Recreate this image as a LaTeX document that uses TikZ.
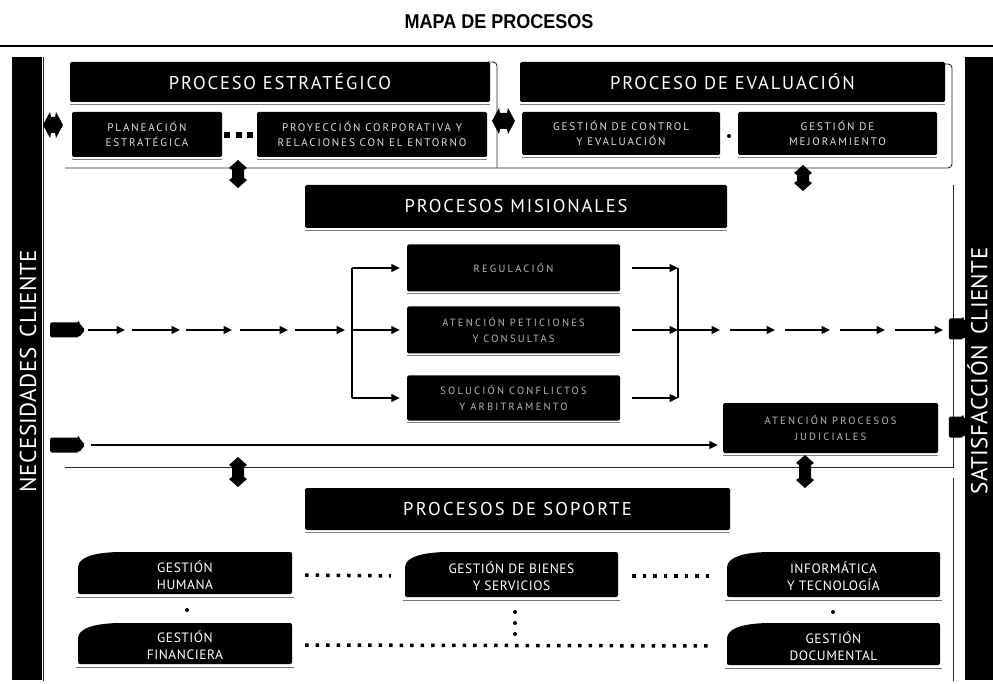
\documentclass[tikz,border=0pt]{standalone}
\usepackage{fontspec}
\setmainfont{PT Sans}
\newfontfamily\titlefont[FakeStretch=0.9]{Liberation Sans}
\newfontfamily\hdfont[LetterSpace=10]{PT Sans}
\newfontfamily\sphdfont[LetterSpace=12]{PT Sans}
\newfontfamily\lsfont[LetterSpace=17]{PT Sans}
\newfontfamily\msfont[LetterSpace=21]{PT Sans}
\newfontfamily\spfont[LetterSpace=4]{PT Sans}
\newfontfamily\barfont[LetterSpace=2]{PT Sans}
\usetikzlibrary{arrows.meta,shapes.arrows}
\newcommand\tabbox[4]{%
  \fill[black,rounded corners=2pt] (#1,#4) -- (#1,#2+13) .. controls (#1+5,#2+5) and (#1+15,#2+1) .. (#1+40,#2) -- (#3,#2) -- (#3,#4) -- cycle;
  \draw[black!55,line width=1pt] (#1-2,#4+3) -- (#3+2,#4+3);
}
% vertical double arrow: name, x, top, bottom
\newcommand\dblV[4]{%
  \fill[black] (#2,#3) -- (#2+9,#3+8) -- (#2+6,#3+10) -- (#2+6,#4-10) -- (#2+9,#4-8) -- (#2,#4)
    -- (#2-9,#4-8) -- (#2-6,#4-10) -- (#2-6,#3+10) -- (#2-9,#3+8) -- cycle;
  \coordinate (#1) at (#2,{(#3+#4)/2});
}
% horizontal double arrow: name, left, right, y, head half-height
\newcommand\dblH[5]{%
  \fill[black] (#2,#4) -- (#2+7,#4-#5) -- (#2+8,#4-#5+5) -- (#3-8,#4-#5+5) -- (#3-7,#4-#5) -- (#3,#4)
    -- (#3-7,#4+#5) -- (#3-8,#4+#5-5) -- (#2+8,#4+#5-5) -- (#2+7,#4+#5) -- cycle;
  \coordinate (#1) at ({(#2+#3)/2},#4);
}
\begin{document}
\begin{tikzpicture}[x=1pt,y=-1pt,
  hdr/.style={fill=black,rounded corners=1.5pt,text=white,inner sep=0pt,font=\hdfont\fontsize{18.5}{20}\selectfont},
  sub/.style={fill=black,rounded corners=1.5pt,text=black!12,inner sep=0pt,align=center,font=\lsfont\fontsize{11}{15}\selectfont},
  mis/.style={fill=black,rounded corners=1.5pt,text=black!28,inner sep=0pt,align=center,font=\msfont\fontsize{10.5}{16}\selectfont},
  suptext/.style={text=white,inner sep=0pt,align=center,font=\spfont\fontsize{13.5}{17}\selectfont},
  barbox/.style={fill=black,inner sep=0pt},
  bartext/.style={text=white,inner sep=0pt,font=\barfont\fontsize{23}{26}\selectfont},
  frame/.style={line width=0.9pt,black!85},
  arr/.style={line width=1.2pt,-{Triangle[length=8.5pt,width=8pt]}},
  plain/.style={line width=1.2pt},
  fat/.style={single arrow,fill=black,inner sep=0pt,single arrow head extend=0pt,single arrow tip angle=100,rounded corners=1.5pt},
  dotline/.style={line width=3.5pt,dash pattern=on 3.5pt off 7pt,black},
  dotnode/.style={fill=black,circle,minimum size=4pt,inner sep=0pt},
  shadowl/.style={black!50,line width=0.9pt}
]
\useasboundingbox (0,0) rectangle (993,684);
% title
\node[font=\titlefont\bfseries\fontsize{20}{22}\selectfont] (title) at (499,22) {MAPA DE PROCESOS};
\draw[line width=2pt] (0,46) -- (993,46);
% side bars
\node[barbox,minimum width=30,minimum height=623] (nec) at (27,368.5) {};
\node[bartext,rotate=90,anchor=center] (nect) at (28,371) {NECESIDADES\hspace{0.45em}CLIENTE};
\node[barbox,minimum width=28,minimum height=623] (sat) at (979,368.5) {};
\node[bartext,rotate=90,anchor=center] (satt) at (977.5,371) {SATISFACCIÓN\hspace{0.45em}CLIENTE};
\draw[frame] (43,57) -- (43,681);
% frames
\draw[frame,rounded corners=4pt] (945,64) -- (952,64) -- (952,168) -- (65,168);
\draw[frame,rounded corners=4pt] (488,62) -- (497,62) -- (497,168);
\draw[frame] (953,185) -- (953,467) -- (65,467);
\draw[frame] (953,478) -- (953,681);
% strategic
\node[hdr,minimum width=420,minimum height=40] (pe) at (280,82) {PROCESO ESTRATÉGICO};
\node[sub,minimum width=150,minimum height=45] (plan) at (147,134.5) {PLANEACIÓN\\ESTRATÉGICA};
\node[sub,minimum width=230,minimum height=45] (proy) at (372,134.5) {PROYECCIÓN CORPORATIVA Y\\RELACIONES CON EL ENTORNO};
% evaluation
\node[hdr,minimum width=425,minimum height=40] (pev) at (732.5,82) {PROCESO DE EVALUACIÓN};
\node[sub,minimum width=198,minimum height=43] (ctrl) at (621,133.5) {GESTIÓN DE CONTROL\\Y EVALUACIÓN};
\node[sub,minimum width=199,minimum height=43] (mej) at (837.5,133.5) {GESTIÓN DE\\MEJORAMIENTO};
\foreach \n in {pe,plan,proy,pev,ctrl,mej}
  \draw[shadowl] ([yshift=-2pt]\n.south west) -- ([yshift=-2pt]\n.south east);
% dots in top
\foreach \xx [count=\i] in {227,238.5,250}
  \node[fill=black,minimum size=6pt,inner sep=0pt] (sd\i) at (\xx,135) {};
\node[dotnode] (ed) at (729,136) {};
% double arrows top
\dblH{da1}{43}{63}{125}{13}
\dblH{da2}{492}{515}{121}{13}
\dblV{da3}{238}{160}{188}
\dblV{da4}{803}{165}{191}
% misionales
\node[hdr,minimum width=422,minimum height=43] (pm) at (516,206.5) {PROCESOS MISIONALES};
\node[mis,minimum width=213,minimum height=47] (reg) at (513.5,268) {REGULACIÓN};
\node[mis,minimum width=213,minimum height=47] (aten) at (513.5,330) {ATENCIÓN PETICIONES\\Y CONSULTAS};
\node[mis,minimum width=213,minimum height=45] (sol) at (513.5,398) {SOLUCIÓN CONFLICTOS\\Y ARBITRAMENTO};
\node[mis,minimum width=215,minimum height=50] (jud) at (830.5,428) {ATENCIÓN PROCESOS\\JUDICIALES};
\foreach \n in {pm,reg,aten,sol,jud}
  \draw[shadowl] ([yshift=-2pt]\n.south west) -- ([yshift=-2pt]\n.south east);
% fat arrows
\node[fat,minimum height=35,minimum width=15] (L1) at (64.5,330) {};
\node[fat,minimum height=35,minimum width=15] (L2) at (64.5,445) {};
\node[fat,minimum height=23,minimum width=21] (R1) at (956,329) {};
\node[fat,minimum height=23,minimum width=21] (R2) at (956,427) {};
% left chain
\foreach \a/\b [count=\i] in {88/125,132/180,186/232,240/288,295/345} {
  \coordinate (la\i) at (\a,330); \coordinate (lb\i) at (\b,330);
  \draw[arr] (la\i) -- (lb\i);
}
\coordinate (bt) at (352,268); \coordinate (bb) at (352,398);
\draw[plain] (bt) -- (bb);
\draw[arr,shorten >=7pt] (bt) -- (bt -| reg.west);
\draw[arr,shorten >=7pt] (bt |- aten.west) -- (aten.west);
\draw[arr,shorten >=7pt] (bb) -- (bb -| sol.west);
% right merge
\coordinate (mt) at (678,268); \coordinate (mb) at (678,398);
\draw[plain] (mt) -- (mb);
\draw[arr,shorten <=12pt] (reg.east) -- (mt);
\draw[arr,shorten <=12pt] (aten.east) -- (mt |- aten.east);
\draw[arr,shorten <=12pt] (sol.east) -- (mb);
\foreach \a/\b [count=\i] in {678/720,730/775,785/830,840/885,895/943} {
  \coordinate (ra\i) at (\a,330); \coordinate (rb\i) at (\b,330);
  \draw[arr] (ra\i) -- (rb\i);
}
% second row
\draw[arr,shorten <=6pt,shorten >=5pt] (L2.east) -- (L2.east -| jud.west);
% bottom double arrows
\dblV{da5}{238}{457}{487}
\dblV{da6}{805}{455}{488}
% support
\node[hdr,font=\sphdfont\fontsize{18.5}{20}\selectfont,minimum width=425,minimum height=42] (ps) at (517.5,509) {PROCESOS DE SOPORTE};
\draw[shadowl] ([yshift=-2pt]ps.south west) -- ([yshift=-2pt]ps.south east);
\tabbox{78}{552}{292}{594}
\node[suptext,minimum width=214,minimum height=42] (hum) at (185,575) {GESTIÓN\\HUMANA};
\tabbox{78}{623}{292}{664}
\node[suptext,minimum width=214,minimum height=41] (fin) at (185,645) {GESTIÓN\\FINANCIERA};
\tabbox{405}{552}{618}{597}
\node[suptext,minimum width=213,minimum height=45] (bien) at (511.5,576) {GESTIÓN DE BIENES\\Y SERVICIOS};
\tabbox{727}{552}{940}{597}
\node[suptext,minimum width=213,minimum height=45] (info) at (833.5,576) {INFORMÁTICA\\Y TECNOLOGÍA};
\tabbox{727}{623}{940}{665}
\node[suptext,minimum width=213,minimum height=42] (doc) at (833.5,646) {GESTIÓN\\DOCUMENTAL};
% dotted connectors
\draw[dotline,shorten <=13pt,shorten >=14pt] (hum.east) -- (bien.west);
\draw[dotline,shorten <=14pt,shorten >=14pt] (bien.east) -- (info.west);
\node[dotnode] (hf) at (187,610) {};
\node[dotnode] (id) at (833,612) {};
\foreach \yy [count=\i] in {612,623,634}
  \node[dotnode] (bv\i) at (515,\yy) {};
\draw[dotline,shorten <=13pt,shorten >=14pt] (fin.east) -- (doc.west);
\end{tikzpicture}
\end{document}
